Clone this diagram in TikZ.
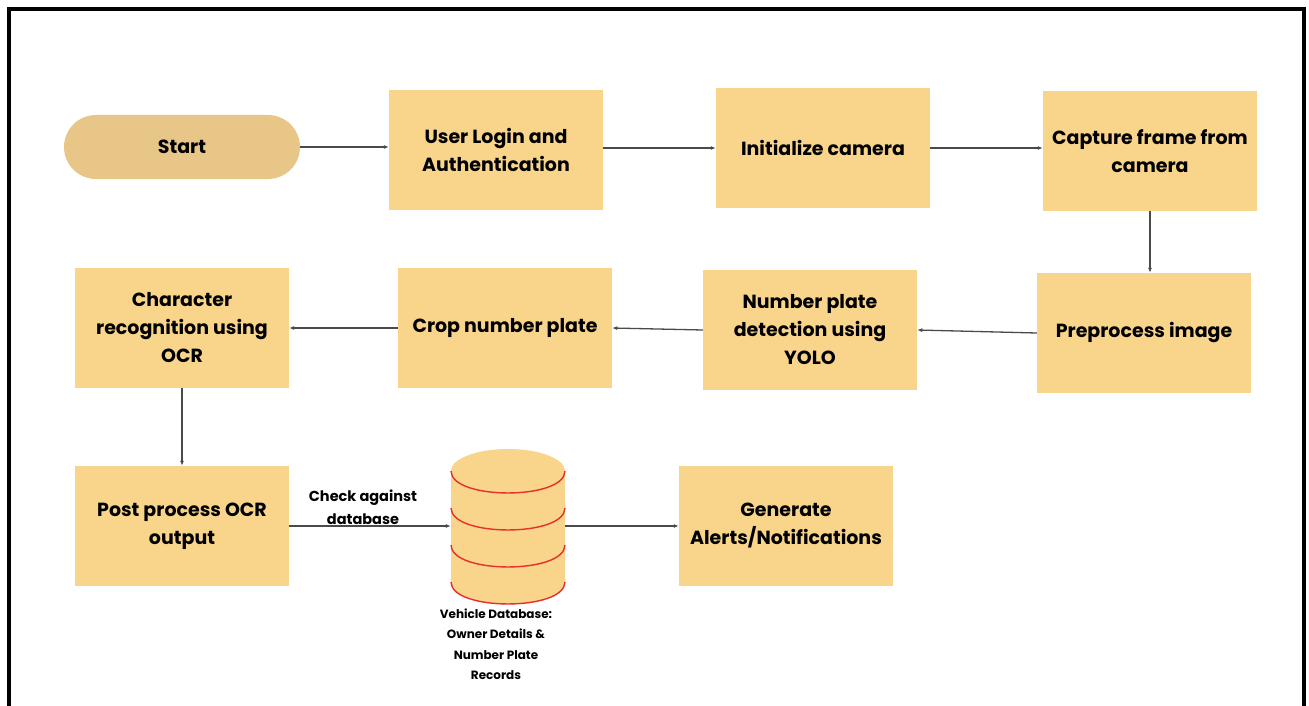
\documentclass[tikz,border=0pt]{standalone}
\usepackage{fontspec}
\setmainfont{Poppins}
\usetikzlibrary{arrows.meta}

\definecolor{boxfill}{HTML}{F9D48B}
\definecolor{startfill}{HTML}{E8C687}
\definecolor{linegray}{HTML}{4A4A4A}
\definecolor{bandred}{HTML}{E8302A}

\begin{document}
\begin{tikzpicture}[x=1pt, y=-1pt,
            every node/.style = {align=center, inner sep=0pt,
                                font=\fontsize{19}{28}\selectfont\bfseries},
            stepbox/.style = {rectangle, fill=boxfill,
                                minimum width=214pt, minimum height=120pt},
            startbox/.style = {rectangle, rounded corners=32pt, fill=startfill,
                                minimum width=236pt, minimum height=64pt},
            flow/.style = {draw=linegray, line width=1.3pt,
                                -{Latex[length=5pt,width=4pt]}}]
    \useasboundingbox (0,0) rectangle (1309,706);
    \draw[line width=4pt] (9,9) rectangle (1304,760);

    % first row
    \node[startbox] (start) at (182,147) {Start};
    \node[stepbox] (login) at (496,150) {User Login and\\Authentication};
    \node[stepbox] (camera) at (823,148) {Initialize camera};
    \node[stepbox] (capture) at (1150,151) {Capture frame from\\camera};

    % second row, right to left
    \node[stepbox] (preproc) at (1144,333) {Preprocess image};
    \node[stepbox] (detect) at (810,330) {Number plate\\detection using\\YOLO};
    \node[stepbox] (crop) at (505,328) {Crop number plate};
    \node[stepbox] (ocr) at (182,328) {Character\\recognition using\\OCR};

    % third row
    \node[stepbox] (post) at (182,526) {Post process OCR\\output};
    \node[stepbox] (alerts) at (786,526) {Generate\\Alerts/Notifications};

    % database cylinder
    \node[minimum width=114pt, minimum height=156pt] (db) at (508,526) {};
    \fill[boxfill] (451,471) -- (451,582)
        .. controls (451,611.3) and (565,611.3) .. (565,582) -- (565,471) -- cycle;
    \fill[boxfill] (508,471) ellipse [x radius=57, y radius=22];
    \foreach \yb in {471,508,545,582}
        \draw[bandred, line width=1.4pt] (451,\yb)
            .. controls (451,\yb+29.3) and (565,\yb+29.3) .. (565,\yb);
    \node[font=\fontsize{12}{20.5}\selectfont\bfseries] (dblabel) at (496,644)
        {Vehicle Database:\\Owner Details \&\\Number Plate\\Records};

    % connectors
    \draw[flow] (start.east) -- (start.east -| login.west);
    \draw[flow] (camera.west -| login.east) -- (camera.west);
    \draw[flow] (camera.east) -- (camera.east -| capture.west);
    \draw[flow] (capture.south) -- (capture.south |- preproc.north);
    \draw[flow] (preproc.west) -- (detect.east);
    \draw[flow] (detect.west) -- (crop.west -| crop.east);
    \draw[flow] (crop.west) -- (ocr.east);
    \draw[flow] (ocr.south) -- (post.north);
    \draw[flow] (post.east) -- (db.west);
    \draw[flow] (db.east) -- (alerts.west);
    \node[font=\fontsize{14.5}{23}\selectfont\bfseries] (check) at (363,507)
        {Check against\\database};
\end{tikzpicture}
\end{document}
